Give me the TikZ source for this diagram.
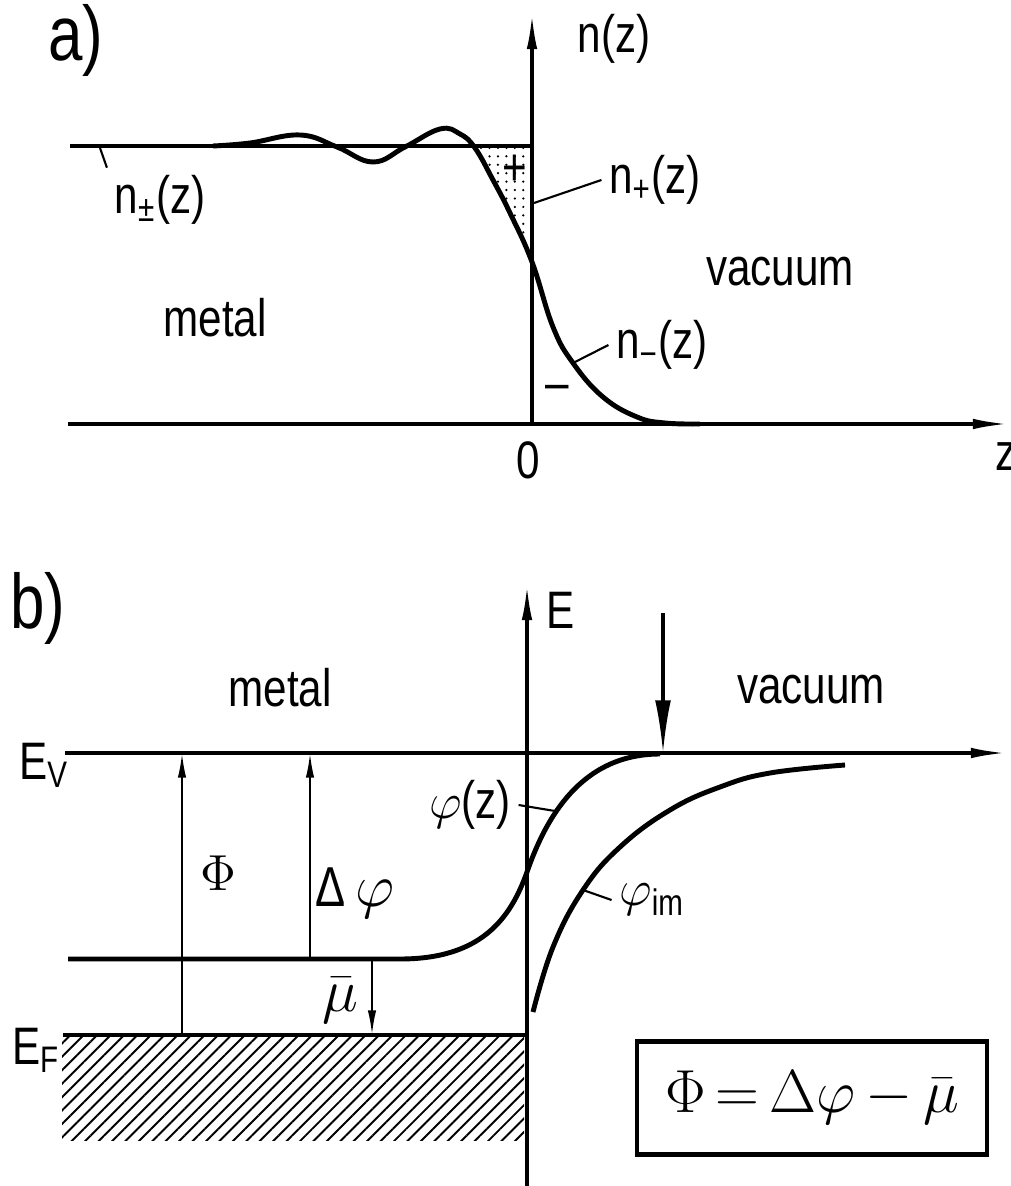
\documentclass[tikz,border=0pt]{standalone}
\usepackage{amsmath}
\usepackage{fontspec}
\setsansfont{Liberation Sans}[FakeStretch=0.8]
\usetikzlibrary{arrows.meta, patterns.meta}
\tikzset{
  axisline/.style={line width=0.9pt, -{Latex[length=10pt,width=3pt]}},
  bandline/.style={line width=0.9pt},
  profile/.style={line width=1.4pt},
  gaparrow/.style={line width=0.6pt, -{Latex[length=7pt,width=2.4pt]}},
  leader/.style={line width=0.6pt},
  lbl/.style={font=\sffamily\fontsize{15}{18}\selectfont, inner sep=2pt},
  panel/.style={font=\sffamily\fontsize{22}{26}\selectfont, inner sep=0pt},
  greek/.style={font=\fontsize{14}{16}\selectfont, inner sep=1pt},
}

\begin{document}
\begin{tikzpicture}[x=0.01cm, y=-0.01cm]
  \useasboundingbox (0,0) rectangle (1010,1186);

  % ---- a) charge densities at the surface
  \node[panel] (taga) at (76,40) {a)};
  \coordinate (zleft) at (68,424);
  \coordinate (zright) at (1008,424);
  \coordinate (nbot) at (532,424);
  \coordinate (ntop) at (532,14);
  \coordinate (bulkl) at (70,146);
  \coordinate (bulkr) at (532,146);

  % dotted region: ions without electrons
  \begin{scope}
    \clip (475,146) rectangle (532,300);
    \fill[pattern={Dots[distance=2.4pt,radius=0.35pt]}]
      plot[smooth, tension=0.7] coordinates {(460,134) (475,148) (493,180) (510,213) (532,262) (553,327)}
      -- (553,100) -- (460,100) -- cycle;
  \end{scope}

  \draw[axisline] (zleft) -- (zright);
  \draw[axisline] (nbot) -- (ntop);
  \draw[bandline] (bulkl) -- (bulkr);
  \draw[profile] plot[smooth, tension=0.7] coordinates {
    (213,146) (250,143) (300,135) (337,147) (373,162) (405,147) (440,129)
    (460,134) (475,148) (493,180) (510,213) (532,262) (553,327) (573,363)
    (603,397) (637,417) (665,423) (700,424)};

  \node[lbl] (nlabel) at (614,39) {n(z)};
  \node[lbl] (npm) at (160,200) {n\textsubscript{±}(z)};
  \node[lbl] (nplus) at (655,180) {n\textsubscript{+}(z)};
  \node[lbl] (nminus) at (662,345) {n\textsubscript{−}(z)};
  \node[lbl] (vaca) at (780,272) {vacuum};
  \node[lbl] (metala) at (215,318) {metal};
  \node[lbl] (plus) at (515,170) {+};
  \node[lbl] (minus) at (557,393) {–};
  \node[lbl] (zero) at (528,460) {0};
  \node[lbl] (zlabel) at (1006,457) {z};

  \coordinate (npmfoot) at (100,148);
  \coordinate (nplusfoot) at (534,203);
  \coordinate (nminusfoot) at (573,363);
  \draw[leader] (npmfoot) -- (npm.north west);
  \draw[leader] (nplusfoot) -- (nplus.west);
  \draw[leader] (nminusfoot) -- (nminus.west);

  % ---- b) potential energy across the surface
  \node[panel] (tagb) at (38,608) {b)};
  \coordinate (ebot) at (527,1186);
  \coordinate (etop) at (527,585);
  \coordinate (evl) at (65,753);
  \coordinate (evr) at (1006,753);
  \coordinate (innerl) at (68,959);
  \coordinate (innerr) at (400,959);
  \coordinate (efl) at (63,1035);
  \coordinate (efr) at (527,1035);

  \fill[pattern={Lines[angle=45,distance=2.7pt,line width=0.55pt]}]
    (62,1037) rectangle (524,1140);

  \draw[axisline] (ebot) -- (etop);
  \draw[axisline] (evl) -- (evr);
  \draw[bandline] (efl) -- (efr);
  \draw[profile] (innerl) -- (innerr)
    .. controls (480,959) and (510,920) .. (527,872)
    .. controls (545,820) and (580,754) .. (660,754);
  \draw[profile] plot[smooth, tension=0.7] coordinates {
    (533,1012) (553,947) (583,890) (620,847) (670,810) (720,787) (770,773) (845,765)};

  % gaps between the levels
  \draw[gaparrow] (182,1035) -- (182,753);
  \draw[gaparrow] (310,959) -- (310,753);
  \draw[gaparrow] (372,959) -- (372,1035);
  \draw[line width=0.9pt, -{Latex[length=15pt,width=4.5pt]}] (663,613) -- (663,753);

  \node[lbl] (elabel) at (561,610) {E};
  \node[lbl] (evlabel) at (44,765) {E\textsubscript{V}};
  \node[lbl] (eflabel) at (36,1050) {E\textsubscript{F}};
  \node[lbl] (metalb) at (280,688) {metal};
  \node[lbl] (vacb) at (811,690) {vacuum};
  \node[greek] (philabel) at (218,873) {$\Phi$};
  \node[greek] (dphilabel) at (355,893) {\sffamily\fontsize{16}{18}\selectfont Δ\,$\varphi$};
  \node[greek, font=\fontsize{17}{20}\selectfont] (mulabel) at (340,1000) {$\bar{\mu}$};
  \node[lbl] (phiz) at (470,805) {$\varphi$(z)};
  \node[lbl] (phiim) at (652,900) {$\varphi$\textsubscript{im}};

  \coordinate (phizfoot) at (555,811);
  \coordinate (phiimfoot) at (583,890);
  \draw[leader] (phiz.east) -- (phizfoot);
  \draw[leader] (phiimfoot) -- (phiim.west);

  \node[draw, line width=1.2pt, minimum width=3.5cm, minimum height=1.13cm,
        font=\fontsize{18}{22}\selectfont] (relation) at (812,1098)
    {$\Phi\,{=}\,\Delta\varphi\,{-}\,\bar{\mu}$};
\end{tikzpicture}
\end{document}
